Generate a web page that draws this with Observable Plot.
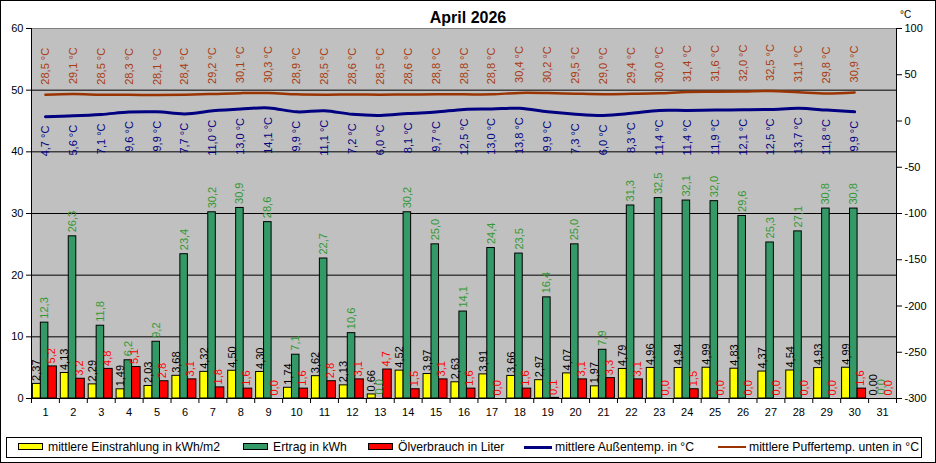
<!DOCTYPE html>
<html>
<head>
<meta charset="utf-8">
<script src="https://cdn.jsdelivr.net/npm/d3@7"></script>
<script src="https://cdn.jsdelivr.net/npm/@observablehq/plot@0.6"></script>
<style>
  html, body { margin: 0; padding: 0; background: #fff; }
  #wrap { position: relative; width: 936px; height: 463px; overflow: hidden; font-family: "Liberation Sans", Arial, sans-serif; }
  #border { position: absolute; left: 0; top: 0; width: 936px; height: 463px; box-sizing: border-box; border: 1px solid #000; pointer-events: none; }
  #title { position: absolute; left: 0; width: 936px; top: 9px; text-align: center; font-weight: bold; font-size: 16px; }
  #unit { position: absolute; left: 900px; top: 9px; font-size: 10px; }
  #legend { position: absolute; left: 6px; top: 437px; width: 916px; height: 21px; box-sizing: border-box; border: 1px solid #000; font-size: 12.2px; }
  .li { position: absolute; top: 2px; white-space: nowrap; line-height: 15px; }
  .sw { position: absolute; top: 5px; width: 25px; height: 7px; box-sizing: border-box; border: 1px solid #000; }
  .ln { position: absolute; top: 8px; width: 28px; height: 3px; }
</style>
</head>
<body>
<div id="wrap">
  <div id="chart"></div>
  <div id="title">April 2026</div>
  <div id="unit">°C</div>
  <div id="legend"></div>
  <div id="border"></div>
</div>
<script>
// ---- data ----
const days = [1,2,3,4,5,6,7,8,9,10,11,12,13,14,15,16,17,18,19,20,21,22,23,24,25,26,27,28,29,30,31];
const einstrahlung = [2.37,4.13,2.29,1.49,2.03,3.68,4.32,4.50,4.30,1.74,3.62,2.13,0.66,4.52,3.97,2.63,3.91,3.66,2.97,4.07,1.97,4.79,4.96,4.94,4.99,4.83,4.37,4.54,4.93,4.99,0.00];
const ertrag = [12.3,26.3,11.8,6.2,9.2,23.4,30.2,30.9,28.6,7.1,22.7,10.6,0.0,30.2,25.0,14.1,24.4,23.5,16.4,25.0,7.9,31.3,32.5,32.1,32.0,29.6,25.3,27.1,30.8,30.8,0.0];
const oel = [5.2,3.2,4.8,5.1,2.8,3.1,1.8,1.6,0.0,1.6,2.8,3.1,4.7,1.5,3.1,1.6,0.0,1.6,0.1,3.1,3.3,3.1,0.0,1.5,0.0,0.0,0.0,0.0,0.0,1.6,0.0];
const aussen = [4.7,5.6,7.1,9.6,9.9,7.7,11.0,13.0,14.1,9.9,11.1,7.2,6.0,8.1,9.7,12.5,13.0,13.8,9.9,7.3,6.0,8.3,11.4,11.4,11.9,12.1,12.5,13.7,11.8,9.9];
const puffer = [28.5,29.1,28.5,28.3,28.1,28.4,29.2,30.1,30.3,28.9,28.5,28.6,28.5,28.6,28.8,28.8,28.8,30.4,30.2,29.5,29.0,29.4,30.0,31.4,31.6,32.0,32.5,31.1,29.8,30.9];
const leftTicks = [0,10,20,30,40,50,60];
const rightTicks = [-300,-250,-200,-150,-100,-50,0,50,100];
const gridLines = [10,20,30,40,50];

// right axis (-300..100) mapped onto left axis (0..60)
const toLeft = v => (v + 300) * 60 / 400;
const fmt = (v, n) => v.toFixed(n).replace(".", ",");

const bars = days.map((d, i) => ({day: d, ein: einstrahlung[i], ert: ertrag[i], oel: oel[i]}));
const temps = aussen.map((a, i) => ({day: days[i], a, p: puffer[i], ay: toLeft(a), py: toLeft(puffer[i])}));

const C = {yellow: "#ffff00", green: "#339966", red: "#ff0000", navy: "#000080", brown: "#993300",
           gLab: "#339933", rLab: "#ff0000", pLab: "#a83a10", aLab: "#000080"};

const offs = {ein: [-0.45, -0.165], ert: [-0.165, 0.105], oel: [0.105, 0.41]};
const mid = k => (offs[k][0] + offs[k][1]) / 2;

const chart = Plot.plot({
  width: 936, height: 463,
  marginLeft: 31, marginRight: 40, marginTop: 28, marginBottom: 65,
  style: {fontFamily: '"Liberation Sans", Arial, sans-serif', fontSize: "11px", background: "transparent", overflow: "visible"},
  x: {type: "linear", domain: [0.5, 31.5], axis: null},
  y: {domain: [0, 60], axis: null},
  marks: [
    Plot.frame({fill: "#c0c0c0", stroke: "#808080"}),
    Plot.ruleY(gridLines, {stroke: "#000", strokeWidth: 1}),
    Plot.rectY(bars, {x1: d => d.day + offs.ein[0], x2: d => d.day + offs.ein[1], y1: 0, y2: "ein", fill: C.yellow, stroke: "#000", strokeWidth: 1}),
    Plot.rectY(bars, {x1: d => d.day + offs.ert[0], x2: d => d.day + offs.ert[1], y1: 0, y2: "ert", fill: C.green, stroke: "#000", strokeWidth: 1}),
    Plot.rectY(bars, {x1: d => d.day + offs.oel[0], x2: d => d.day + offs.oel[1], y1: 0, y2: "oel", fill: C.red, stroke: "#000", strokeWidth: 1}),
    Plot.text(bars, {x: d => d.day + mid("ein"), y: "ein", text: d => fmt(d.ein, 2), rotate: -90, textAnchor: "start", dy: -3, fill: "#000"}),
    Plot.text(bars, {x: d => d.day + mid("ert"), y: "ert", text: d => fmt(d.ert, 1), rotate: -90, textAnchor: "start", dy: -4, fill: C.gLab}),
    Plot.text(bars, {x: d => d.day + mid("oel") - 0.05, y: "oel", text: d => fmt(d.oel, 1), rotate: -90, textAnchor: "start", dy: -3, fill: C.rLab}),
    Plot.line(temps, {x: "day", y: "py", stroke: C.brown, strokeWidth: 2.5, curve: "catmull-rom"}),
    Plot.line(temps, {x: "day", y: "ay", stroke: C.navy, strokeWidth: 3, curve: "catmull-rom"}),
    Plot.text(temps, {x: "day", y: "py", text: d => fmt(d.p, 1) + " °C", rotate: -90, textAnchor: "start", dy: -10, fill: C.pLab}),
    Plot.text(temps, {x: "day", y: "ay", text: d => fmt(d.a, 1) + " °C", rotate: -90, textAnchor: "end", dy: 9, fill: C.aLab}),
    // axes
    Plot.ruleX([0.5], {stroke: "#000"}),
    Plot.ruleX([31.5], {stroke: "#000"}),
    Plot.ruleY([0], {stroke: "#000"}),
    Plot.axisY({anchor: "left", ticks: leftTicks, tickSize: 5, tickPadding: 3, label: null, fontSize: 11}),
    Plot.axisY({anchor: "right", ticks: rightTicks.map(toLeft), tickFormat: v => String(Math.round(v * 400 / 60 - 300)), tickSize: 5, tickPadding: 3, label: null, fontSize: 11}),
    Plot.axisX({ticks: days.map(d => d - 0.5).concat([31.5]), tickFormat: () => "", tickSize: 5, label: null}),
    Plot.axisX({ticks: days, tickFormat: d => String(d), tickSize: 0, tickPadding: 10, label: null, fontSize: 11})
  ]
});
document.getElementById("chart").appendChild(chart);

// legend
const legendItems = [
  {label: "mittlere Einstrahlung in kWh/m2", type: "sw", color: C.yellow, x: 11},
  {label: "Ertrag in kWh", type: "sw", color: C.green, x: 236},
  {label: "Ölverbrauch in Liter", type: "sw", color: C.red, x: 361},
  {label: "mittlere Außentemp. in °C", type: "ln", color: C.navy, x: 517},
  {label: "mittlere Puffertemp. unten in °C", type: "ln", color: C.brown, x: 711}
];
const leg = document.getElementById("legend");
for (const it of legendItems) {
  const s = document.createElement("div");
  s.className = it.type;
  s.style.left = it.x + "px";
  s.style.background = it.color;
  if (it.type === "ln") s.style.height = (it.color === C.navy ? 3 : 2) + "px";
  leg.appendChild(s);
  const t = document.createElement("div");
  t.className = "li";
  t.style.left = (it.x + (it.type === "sw" ? 30 : 31)) + "px";
  t.textContent = it.label;
  leg.appendChild(t);
}
</script>
</body>
</html>
